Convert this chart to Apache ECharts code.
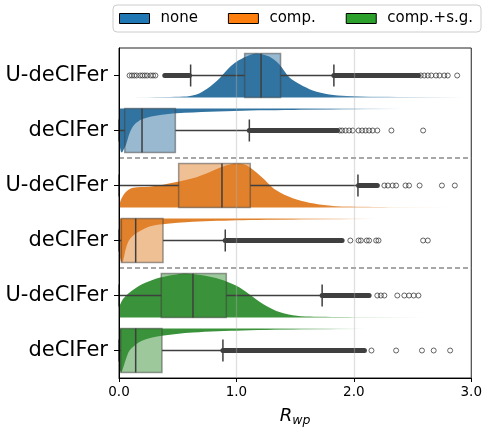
<!DOCTYPE html>
<html>
<head>
<meta charset="utf-8" />
<title>R_wp raincloud</title>
<script src="https://cdn.jsdelivr.net/npm/echarts@6/dist/echarts.min.js"></script>
</head>
<body style="margin:0">
<div id="main" style="width:485px;height:432px"></div>
<script type="text/javascript">
// rows top to bottom
var rowLabels = ['U-deCIFer', 'deCIFer', 'U-deCIFer', 'deCIFer', 'U-deCIFer', 'deCIFer'];
var groupNames = ['none', 'comp.', 'comp.+s.g.'];

// half-violin densities: [x, height relative to box height]
var densNoneU = [[0.08,0],[0.2,0.005],[0.4,0.01],[0.55,0.02],[0.66,0.07],[0.75,0.2],[0.857,0.44],[0.94,0.68],[1.0,0.81],[1.085,0.93],[1.17,1.0],[1.28,0.93],[1.37,0.74],[1.45,0.46],[1.54,0.3],[1.65,0.16],[1.79,0.07],[1.94,0.035],[2.2,0.015],[2.95,0.005],[2.96,0]];
var densNoneD = [[0,0.7],[0.015,0.97],[0.025,1.0],[0.04,0.93],[0.06,0.82],[0.09,0.56],[0.13,0.37],[0.2,0.24],[0.35,0.15],[0.49,0.11],[0.77,0.075],[1.05,0.05],[1.62,0.03],[2.4,0.01],[2.41,0]];
var densCompU = [[0,0.03],[0.02,0.2],[0.06,0.36],[0.12,0.45],[0.26,0.47],[0.49,0.58],[0.66,0.69],[0.77,0.8],[0.885,0.93],[0.985,1.0],[1.085,0.96],[1.2,0.73],[1.34,0.39],[1.48,0.21],[1.62,0.11],[1.79,0.045],[1.94,0.02],[2.3,0.008],[2.8,0.003],[2.81,0]];
var densCompD = [[0,0.7],[0.015,0.96],[0.03,1.0],[0.06,0.67],[0.09,0.48],[0.15,0.33],[0.26,0.18],[0.37,0.13],[0.63,0.075],[1.05,0.04],[1.62,0.025],[2.2,0.01],[2.21,0]];
var densSgU = [[0,0.2],[0.006,0.27],[0.034,0.42],[0.09,0.57],[0.2,0.76],[0.35,0.91],[0.49,0.98],[0.57,1.0],[0.71,0.96],[0.86,0.87],[1.0,0.72],[1.11,0.53],[1.23,0.3],[1.34,0.15],[1.48,0.05],[1.62,0.02],[2.0,0.008],[2.6,0.003],[2.61,0]];
var densSgD = [[0,0.7],[0.006,0.92],[0.02,1.0],[0.06,0.69],[0.09,0.5],[0.15,0.35],[0.2,0.27],[0.35,0.17],[0.63,0.09],[1.05,0.045],[1.62,0.025],[2.1,0.01],[2.11,0]];
var densities = [densNoneU, densNoneD, densCompU, densCompD, densSgU, densSgD];

// box stats: [low whisker, q1, median, q3, high whisker]
var boxStats = [
  [0.61, 1.07, 1.21, 1.376, 1.83],
  [0, 0.049, 0.196, 0.48, 1.11],
  [0, 0.508, 0.877, 1.118, 2.035],
  [0, 0.02, 0.142, 0.375, 0.905],
  [0, 0.36, 0.63, 0.914, 1.73],
  [0, 0.015, 0.142, 0.366, 0.885]
];

// outliers: dense runs [from, to] and single points
var outlierRuns = [
  [[0.39, 0.60], [1.83, 2.55]],
  [[1.11, 1.86]],
  [[2.04, 2.2]],
  [[0.905, 1.9]],
  [[1.73, 2.13]],
  [[0.885, 2.09]]
];
var outlierDots = [
  [0.09,0.11,0.13,0.15,0.18,0.2,0.22,0.24,0.27,0.29,0.31,2.57,2.6,2.63,2.66,2.7,2.73,2.77,2.8,2.88],
  [1.88,1.9,1.93,1.96,1.99,2.04,2.07,2.1,2.13,2.16,2.2,2.32,2.59],
  [2.26,2.29,2.33,2.36,2.44,2.47,2.56,2.75,2.86],
  [1.97,2.04,2.06,2.11,2.13,2.19,2.21,2.59,2.63],
  [2.2,2.23,2.26,2.37,2.43,2.47,2.51,2.55],
  [2.15,2.36,2.58,2.68,2.82]
];

// styling
var legendColors = ['#1f77b4', '#ff7f0e', '#2ca02c'];
var fillRGB = [[50,116,161], [225,129,44], [58,146,58]];
var violinFade = [[0.08,0.6,1.8,2.95],[0,0,1.5,2.4],[0,0,1.7,2.8],[0,0,1.3,2.2],[0,0,1.6,2.6],[0,0,1.2,2.1]];
var ink = '#3f3f3f';

function rgba(c, a) { return 'rgba(' + c[0] + ',' + c[1] + ',' + c[2] + ',' + a + ')'; }

function violinItem(params, api) {
  var row = api.value(1);
  var dens = densities[row];
  var up = row % 2 === 0;
  var c = api.coord([0, row]);
  var band = api.size([0, 1])[1];
  var base = up ? c[1] + band * 0.4 : c[1] - band * 0.4;
  var hmax = band * 0.8;
  var pts = [];
  if (dens[0][1] > 0) pts.push([api.coord([dens[0][0], row])[0], base]);
  dens.forEach(function (d) {
    var px = api.coord([d[0], row])[0];
    pts.push([px, up ? base - d[1] * hmax : base + d[1] * hmax]);
  });
  var last = dens[dens.length - 1];
  if (last[1] > 0) pts.push([api.coord([last[0], row])[0], base]);

  var col = fillRGB[Math.floor(row / 2)];
  var f = violinFade[row].map(function (v) { return api.coord([v, row])[0]; });
  var span = f[3] - f[0];
  var stops = [];
  if (f[1] > f[0]) {
    stops.push({ offset: 0, color: rgba(col, 0) });
    stops.push({ offset: (f[1] - f[0]) / span, color: rgba(col, 1) });
  } else {
    stops.push({ offset: 0, color: rgba(col, 1) });
  }
  stops.push({ offset: (f[2] - f[0]) / span, color: rgba(col, 1) });
  stops.push({ offset: 1, color: rgba(col, 0) });

  return {
    type: 'polygon',
    shape: { points: pts, smooth: 0.3, smoothConstraint: [pts[0], pts[0]] },
    style: {
      fill: { type: 'linear', x: f[0], y: 0, x2: f[3], y2: 0, global: true, colorStops: stops },
      stroke: null
    }
  };
}

function boxItem(params, api) {
  var row = api.value(0);
  var band = api.size([0, 1])[1];
  var y = api.coord([0, row])[1];
  var h = band * 0.8;
  var xs = [1, 2, 3, 4, 5].map(function (i) { return api.coord([api.value(i), row])[0]; });
  var cap = h * 0.25;
  var ln = { stroke: ink, lineWidth: 1.5 };
  var col = fillRGB[Math.floor(row / 2)];
  return {
    type: 'group',
    children: [
      { type: 'rect', shape: { x: xs[1], y: y - h / 2, width: xs[3] - xs[1], height: h },
        style: { fill: rgba(col, 0.5), stroke: 'rgba(63,63,63,0.5)', lineWidth: 1.5 } },
      { type: 'line', shape: { x1: xs[0], y1: y, x2: xs[1], y2: y }, style: ln },
      { type: 'line', shape: { x1: xs[3], y1: y, x2: xs[4], y2: y }, style: ln },
      { type: 'line', shape: { x1: xs[0], y1: y - cap, x2: xs[0], y2: y + cap }, style: ln },
      { type: 'line', shape: { x1: xs[4], y1: y - cap, x2: xs[4], y2: y + cap }, style: ln },
      { type: 'line', shape: { x1: xs[2], y1: y - h / 2, x2: xs[2], y2: y + h / 2 }, style: ln }
    ]
  };
}

function runItem(params, api) {
  var row = api.value(2);
  var a = api.coord([api.value(0), row]);
  var b = api.coord([api.value(1), row]);
  return {
    type: 'rect',
    shape: { x: a[0] - 2.5, y: a[1] - 2.5, width: b[0] - a[0] + 5, height: 5, r: 2.5 },
    style: { fill: ink }
  };
}

function sepItem(params, api) {
  var r = api.value(0);
  var y = (api.coord([0, r])[1] + api.coord([0, r + 1])[1]) / 2;
  return {
    type: 'line',
    shape: { x1: api.coord([0, r])[0], y1: y, x2: api.coord([3, r])[0], y2: y },
    style: { stroke: '#8a8a8a', lineWidth: 1.3, lineDash: [5, 3] }
  };
}

var violinSeries = groupNames.map(function (name, g) {
  return {
    name: name,
    type: 'custom',
    renderItem: violinItem,
    clip: true,
    z: 2,
    silent: true,
    itemStyle: { color: legendColors[g] },
    data: [[0, g * 2], [0, g * 2 + 1]]
  };
});

var boxData = boxStats.map(function (s, i) { return [i].concat(s); });
var runData = [];
outlierRuns.forEach(function (runs, i) { runs.forEach(function (r) { runData.push([r[0], r[1], i]); }); });
var dotData = [];
outlierDots.forEach(function (dots, i) { dots.forEach(function (x) { dotData.push([x, i]); }); });

var myChart = echarts.init(document.getElementById('main'), null, { renderer: 'canvas' });

var option = {
  animation: false,
  textStyle: { fontFamily: 'DejaVu Sans' },
  legend: {
    data: groupNames,
    left: 113,
    top: 5,
    icon: 'rect',
    itemWidth: 30,
    itemHeight: 10,
    itemGap: 30,
    padding: [6, 8, 6, 6],
    borderColor: '#cccccc',
    borderWidth: 1,
    borderRadius: 4,
    selectedMode: false,
    itemStyle: { borderColor: '#000', borderWidth: 1 },
    textStyle: { fontSize: 15, color: '#000', padding: [0, 0, 0, 6] }
  },
  grid: {
    left: 119, right: 13, top: 48, bottom: 50,
    show: true, borderColor: '#222', borderWidth: 1
  },
  xAxis: {
    type: 'value',
    min: 0, max: 3, interval: 1,
    z: 6,
    axisLine: { show: true, lineStyle: { color: '#000', width: 1 } },
    axisTick: { show: true, length: 4, lineStyle: { color: '#000' } },
    axisLabel: { fontSize: 13.5, color: '#000', margin: 7, formatter: function (v) { return v.toFixed(1); } },
    splitLine: { show: true, showMinLine: false, showMaxLine: false, lineStyle: { color: 'rgba(176,176,176,0.4)', width: 1.3 } },
    name: '{r|R}{s|wp}',
    nameLocation: 'middle',
    nameGap: 27,
    nameTextStyle: {
      rich: {
        r: { fontSize: 18, fontStyle: 'italic', fontFamily: 'DejaVu Sans', color: '#000' },
        s: { fontSize: 12.5, fontStyle: 'italic', fontFamily: 'DejaVu Sans', color: '#000', padding: [9, 0, 0, 0] }
      }
    }
  },
  yAxis: {
    type: 'category',
    data: rowLabels,
    inverse: true,
    z: 6,
    axisLine: { show: true, lineStyle: { color: '#000', width: 1 } },
    axisTick: { show: true, alignWithLabel: true, length: 5, lineStyle: { color: '#000' } },
    axisLabel: { fontSize: 21, color: '#000', margin: 11 },
    splitLine: { show: false }
  },
  series: violinSeries.concat([
    {
      type: 'custom',
      renderItem: boxItem,
      z: 3,
      silent: true,
      encode: { x: [1, 2, 3, 4, 5], y: 0 },
      data: boxData
    },
    {
      type: 'custom',
      renderItem: runItem,
      z: 4,
      silent: true,
      encode: { x: [0, 1], y: 2 },
      data: runData
    },
    {
      type: 'scatter',
      z: 4,
      silent: true,
      symbol: 'circle',
      symbolSize: 5,
      itemStyle: { color: 'rgba(0,0,0,0)', borderColor: ink, borderWidth: 1 },
      data: dotData
    },
    {
      type: 'custom',
      renderItem: sepItem,
      z: 5,
      silent: true,
      encode: { y: 0 },
      data: [[1], [3]]
    }
  ])
};

myChart.setOption(option);
</script>
</body>
</html>
